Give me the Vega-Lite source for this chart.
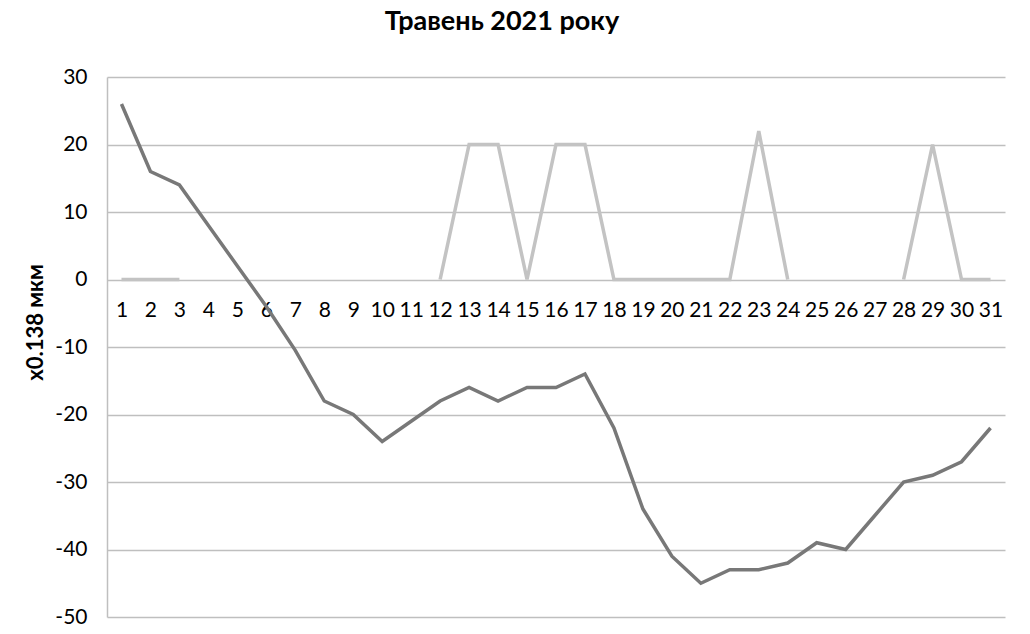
{
  "$schema": "https://vega.github.io/schema/vega-lite/v6.json",
  "width": 898,
  "height": 540,
  "autosize": {"type": "none"},
  "padding": {"left": 107, "top": 77, "right": 25, "bottom": 17},
  "background": "white",
  "title": {
    "text": "Травень 2021 року",
    "font": "Lato",
    "fontSize": 27,
    "fontWeight": "bold",
    "color": "#000000",
    "anchor": "middle",
    "dx": -54,
    "offset": 30
  },
  "config": {
    "view": {"stroke": null},
    "font": "Lato"
  },
  "data": {
    "values": [
      {"day": 1, "series": "A", "value": 26}, {"day": 2, "series": "A", "value": 16},
      {"day": 3, "series": "A", "value": 14}, {"day": 4, "series": "A", "value": 8},
      {"day": 5, "series": "A", "value": 2}, {"day": 6, "series": "A", "value": -4},
      {"day": 7, "series": "A", "value": -10.5}, {"day": 8, "series": "A", "value": -18},
      {"day": 9, "series": "A", "value": -20}, {"day": 10, "series": "A", "value": -24},
      {"day": 11, "series": "A", "value": -21}, {"day": 12, "series": "A", "value": -18},
      {"day": 13, "series": "A", "value": -16}, {"day": 14, "series": "A", "value": -18},
      {"day": 15, "series": "A", "value": -16}, {"day": 16, "series": "A", "value": -16},
      {"day": 17, "series": "A", "value": -14}, {"day": 18, "series": "A", "value": -22},
      {"day": 19, "series": "A", "value": -34}, {"day": 20, "series": "A", "value": -41},
      {"day": 21, "series": "A", "value": -45}, {"day": 22, "series": "A", "value": -43},
      {"day": 23, "series": "A", "value": -43}, {"day": 24, "series": "A", "value": -42},
      {"day": 25, "series": "A", "value": -39}, {"day": 26, "series": "A", "value": -40},
      {"day": 27, "series": "A", "value": -35}, {"day": 28, "series": "A", "value": -30},
      {"day": 29, "series": "A", "value": -29}, {"day": 30, "series": "A", "value": -27},
      {"day": 31, "series": "A", "value": -22},
      {"day": 1, "series": "B", "value": 0}, {"day": 2, "series": "B", "value": 0},
      {"day": 3, "series": "B", "value": 0}, {"day": 4, "series": "B", "value": null},
      {"day": 5, "series": "B", "value": null}, {"day": 6, "series": "B", "value": null},
      {"day": 7, "series": "B", "value": null}, {"day": 8, "series": "B", "value": null},
      {"day": 9, "series": "B", "value": null}, {"day": 10, "series": "B", "value": null},
      {"day": 11, "series": "B", "value": null}, {"day": 12, "series": "B", "value": 0},
      {"day": 13, "series": "B", "value": 20}, {"day": 14, "series": "B", "value": 20},
      {"day": 15, "series": "B", "value": 0}, {"day": 16, "series": "B", "value": 20},
      {"day": 17, "series": "B", "value": 20}, {"day": 18, "series": "B", "value": 0},
      {"day": 19, "series": "B", "value": 0}, {"day": 20, "series": "B", "value": 0},
      {"day": 21, "series": "B", "value": 0}, {"day": 22, "series": "B", "value": 0},
      {"day": 23, "series": "B", "value": 22}, {"day": 24, "series": "B", "value": 0},
      {"day": 25, "series": "B", "value": null}, {"day": 26, "series": "B", "value": null},
      {"day": 27, "series": "B", "value": null}, {"day": 28, "series": "B", "value": 0},
      {"day": 29, "series": "B", "value": 20}, {"day": 30, "series": "B", "value": 0},
      {"day": 31, "series": "B", "value": 0}
    ]
  },
  "mark": {
    "type": "line",
    "strokeWidth": 3.5,
    "invalid": "break-paths-show-domains"
  },
  "encoding": {
    "x": {
      "field": "day",
      "type": "ordinal",
      "scale": {"type": "point", "padding": 0.5},
      "axis": {
        "title": null,
        "labelAngle": 0,
        "domain": false,
        "ticks": false,
        "grid": false,
        "offset": -337,
        "labelPadding": 19,
        "labelFontSize": 21,
        "labelColor": "#000000",
        "labelFont": "Lato"
      }
    },
    "y": {
      "field": "value",
      "type": "quantitative",
      "scale": {"domain": [-50, 30], "nice": false, "zero": false},
      "axis": {
        "values": [-50, -40, -30, -20, -10, 0, 10, 20, 30],
        "labelExpr": "'' + datum.value",
        "title": "x0.138 мкм",
        "titleFont": "Lato",
        "titleFontSize": 22,
        "titleFontWeight": "bold",
        "titleColor": "#000000",
        "titleAngle": -90,
        "titleBaseline": "middle",
        "titleAlign": "center",
        "titleX": -72,
        "titleY": 245,
        "ticks": false,
        "domain": true,
        "domainColor": "#bfbfbf",
        "domainWidth": 1.5,
        "grid": true,
        "gridColor": "#bfbfbf",
        "gridWidth": 1.5,
        "labelPadding": 20,
        "labelFontSize": 21,
        "labelColor": "#000000",
        "labelFont": "Lato"
      }
    },
    "color": {
      "field": "series",
      "type": "nominal",
      "scale": {"domain": ["A", "B"], "range": ["#787878", "#c3c3c3"]},
      "legend": null
    }
  }
}
